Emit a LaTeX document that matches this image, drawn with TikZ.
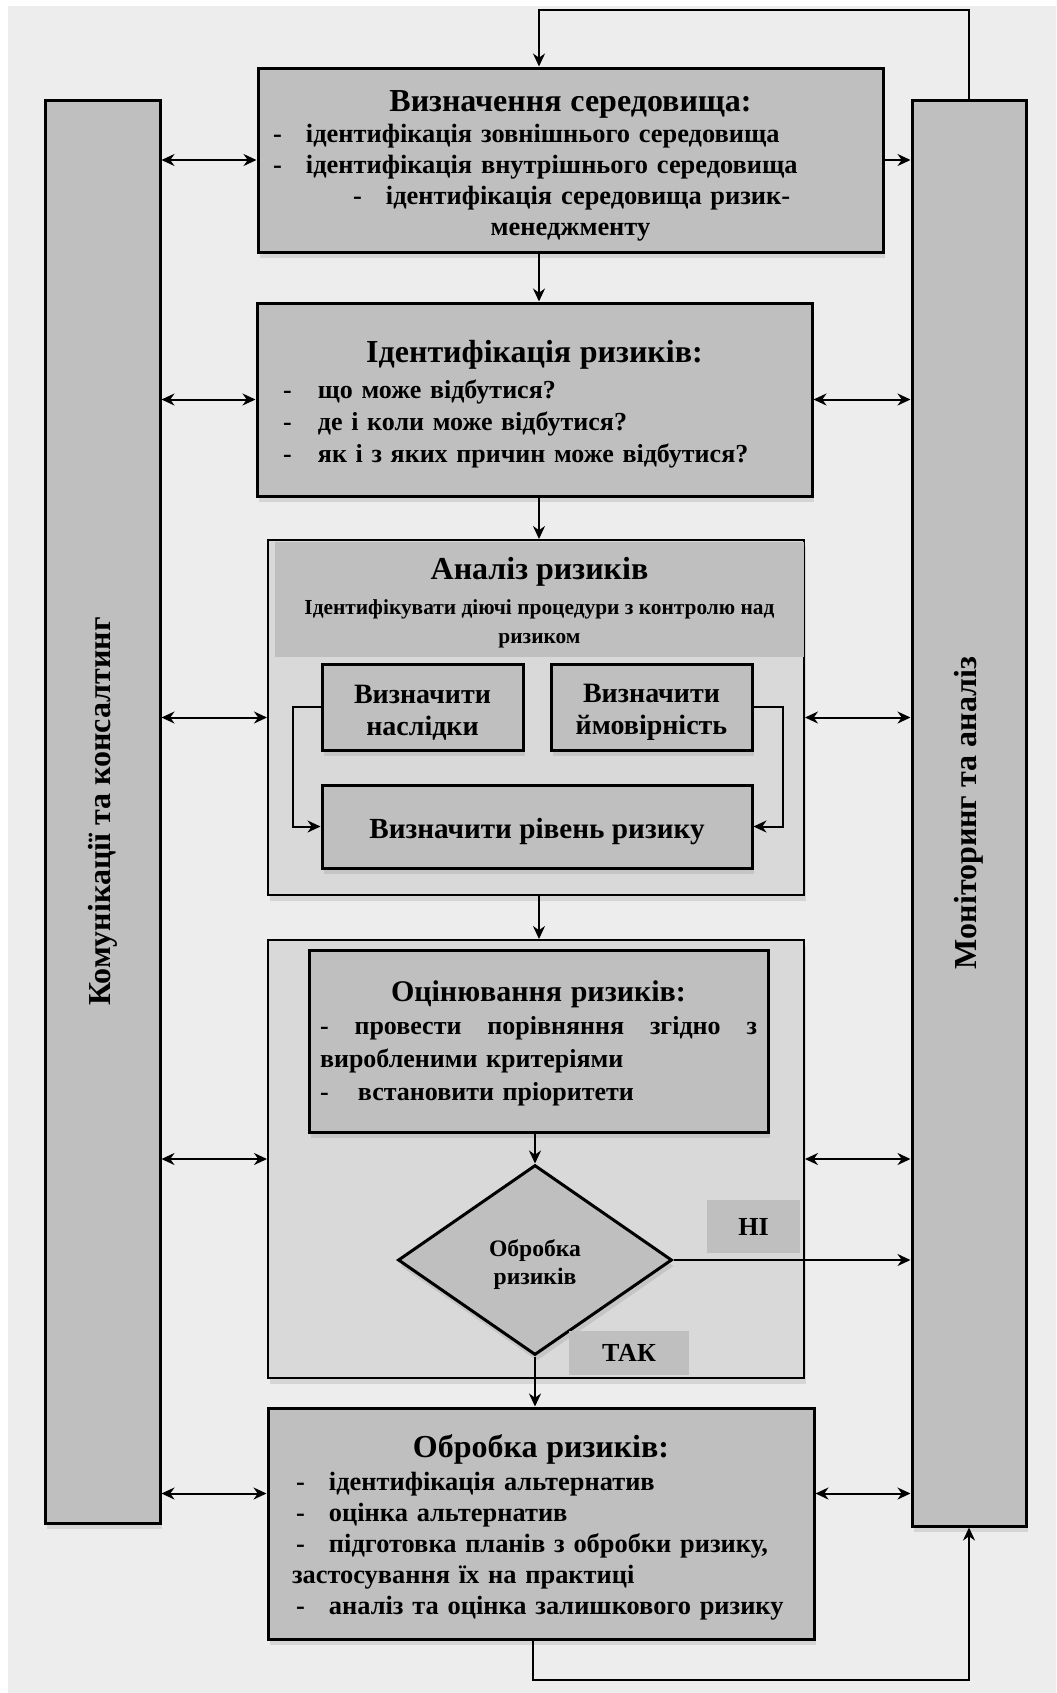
\documentclass[tikz,border=0pt]{standalone}
\usepackage{fontspec}
\setmainfont{Liberation Serif}
\usetikzlibrary{arrows.meta,positioning,shapes.geometric,shadows}
\definecolor{bgcol}{HTML}{EDEDED}
\definecolor{boxcol}{HTML}{BFBFBF}
\definecolor{panelcol}{HTML}{D9D9D9}
\tikzset{
    softshadow/.style={drop shadow={shadow xshift=1pt,shadow yshift=-3pt,opacity=0.22}},
    bigbox/.style={rectangle,draw,line width=1.5pt,fill=boxcol,softshadow,align=left,font=\bfseries\fontsize{13.2}{15.5}\selectfont},
    panel/.style={rectangle,draw,line width=1pt,fill=panelcol,softshadow},
    header/.style={rectangle,fill=boxcol,align=center,font=\bfseries\fontsize{10.7}{14.5}\selectfont},
    smallbox/.style={rectangle,draw,line width=1.5pt,fill=boxcol,softshadow,align=center,font=\bfseries\fontsize{14}{16}\selectfont},
    sidebar/.style={rectangle,draw,line width=1.5pt,fill=boxcol,softshadow},
    sidetext/.style={rotate=90,font=\bfseries\fontsize{16}{18}\selectfont},
    decide/.style={diamond,draw,line width=1.5pt,fill=boxcol,softshadow,align=center,inner sep=0pt,font=\bfseries\fontsize{11.8}{14}\selectfont},
    tag/.style={rectangle,fill=boxcol,font=\bfseries\fontsize{13}{15}\selectfont},
    flow/.style={->,line width=1pt,>={Stealth[length=6.5pt,width=6pt]}},
    bi/.style={<->,line width=1pt,>={Stealth[length=6.5pt,width=6pt]}}
}
\newcommand{\boxtitle}{\fontsize{16}{16}\selectfont}
\newcommand{\rdash}[1][16.5pt]{\makebox[#1][l]{-}}

\begin{document}
\begin{tikzpicture}[x=0.5pt,y=-0.5pt]

    \useasboundingbox (0,0) rectangle (1056,1693);
    \fill[bgcol] (8,6) rectangle (1056,1693);

    % side columns
    \node[sidebar,minimum width=57.5pt,minimum height=711.5pt] (comm) at (102.5,811.5) {};
    \node[sidetext] (commtext) at (comm) {Комунікації та консалтинг};
    \node[sidebar,minimum width=57pt,minimum height=713pt] (mon) at (969,813) {};
    \node[sidetext] (montext) at (mon) {Моніторинг та аналіз};

    % context
    \node[bigbox,minimum width=312.5pt,minimum height=92pt,text width=297.5pt] (ctx) at (570.5,160)
        {\noindent\makebox[\hsize]{\rule{0pt}{16pt}\boxtitle Визначення середовища:}\\
         \rdash ідентифікація зовнішнього середовища\\
         \rdash ідентифікація внутрішнього середовища\\
         \hspace*{40pt}\rdash ідентифікація середовища ризик-\\
         \makebox[\hsize]{менеджменту}};

    % identification
    \node[bigbox,minimum width=277.5pt,minimum height=96.5pt,text width=251.5pt,font=\bfseries\fontsize{13}{16}\selectfont] (ident) at (534.5,399.5)
        {\noindent\makebox[\hsize]{\rule{0pt}{16pt}\boxtitle Ідентифікація ризиків:}\\[2pt]
         \rdash[17.5pt]що може відбутися?\\
         \rdash[17.5pt]де і коли може відбутися?\\
         \rdash[17.5pt]як і з яких причин може відбутися?};

    % analysis
    \node[panel,minimum width=268pt,minimum height=177.5pt] (anal) at (536,717.5) {};
    \node[header,minimum width=264.5pt,minimum height=57.5pt] (analhead) at (539.5,599.5)
        {\rule{0pt}{14pt}{\boxtitle Аналіз ризиків}\\[3pt]
         Ідентифікувати діючі процедури з контролю над\\
         ризиком};
    \node[smallbox,minimum width=100.5pt,minimum height=43pt] (cons) at (422.5,707) {\rule{0pt}{14.5pt}Визначити\\наслідки};
    \node[smallbox,minimum width=100.5pt,minimum height=43pt] (prob) at (651.5,707) {\rule{0pt}{14.5pt}Визначити\\ймовірність};
    \node[smallbox,minimum width=215pt,minimum height=41.5pt,font=\bfseries\fontsize{14.6}{16}\selectfont] (level) at (537,826.5) {\rule{0pt}{15pt}Визначити рівень ризику};

    % evaluation
    \node[panel,minimum width=268pt,minimum height=219pt] (eval) at (536,1159) {};
    \node[bigbox,minimum width=229.5pt,minimum height=91pt,text width=218.5pt,font=\bfseries\fontsize{13}{16.5}\selectfont] (evalbox) at (538.5,1041)
        {\noindent\makebox[\hsize]{\rule{0pt}{13pt}\fontsize{15}{15}\selectfont Оцінювання ризиків:}\\
         \makebox[\hsize][s]{-\hfill провести\hfill порівняння\hfill згідно\hfill з}\\
         виробленими критеріями\\
         \rdash[19pt]встановити пріоритети};
    \node[decide,minimum width=137pt,minimum height=95pt] (decision) at (535,1260) {\rule{0pt}{13pt}Обробка\\ризиків};
    \node[tag,minimum width=46.5pt,minimum height=26.5pt] (no) at (753.5,1226.5) {НІ};
    \node[tag,minimum width=60pt,minimum height=22pt] (yes) at (629,1353) {ТАК};

    % treatment
    \node[bigbox,minimum width=273pt,minimum height=115.5pt,text width=245pt] (treat) at (541,1523.5)
        {\noindent\makebox[\hsize]{\rule{0pt}{15.5pt}\boxtitle Обробка ризиків:}\\[1pt]
         \rdash ідентифікація альтернатив\\
         \rdash оцінка альтернатив\\
         \rdash підготовка планів з обробки ризику,\\
         \hspace*{-2pt}застосування їх на практиці\\
         \rdash аналіз та оцінка залишкового ризику};

    \coordinate (spine) at (539,0);
    \coordinate (loopTop) at (539,10);
    \coordinate (loopBot) at (533,1680);
    \coordinate (treatL) at ([yshift=15pt]treat.west);
    \coordinate (treatR) at ([yshift=15pt]treat.east);

    % main flow
    \draw[flow] (mon.north) |- (loopTop) -- (loopTop |- ctx.north);
    \draw[flow] (ctx.south -| spine) -- (ident.north -| spine);
    \draw[flow] (ident.south -| spine) -- (anal.north -| spine);
    \draw[flow] (anal.south -| spine) -- (eval.north -| spine);
    \draw[flow] (evalbox.south -| decision) -- (decision.north);
    \draw[flow] (decision.south) -- (treat.north -| decision);
    \draw[flow] (decision.east) -- (decision.east -| mon.west);
    \draw[flow] (treat.south -| loopBot) -- (loopBot) -| (mon.south);

    % inside analysis
    \draw[flow] (cons.west) -- ++(-28,0) |- (level.west);
    \draw[flow] (prob.east) -- ++(29,0) |- (level.east);

    % links to side columns
    \draw[bi] (ctx.west) -- (ctx.west -| comm.east);
    \draw[flow] (ctx.east) -- (ctx.east -| mon.west);
    \draw[bi] (ident.west) -- (ident.west -| comm.east);
    \draw[bi] (ident.east) -- (ident.east -| mon.west);
    \draw[bi] (anal.west) -- (anal.west -| comm.east);
    \draw[bi] (anal.east) -- (anal.east -| mon.west);
    \draw[bi] (eval.west) -- (eval.west -| comm.east);
    \draw[bi] (eval.east) -- (eval.east -| mon.west);
    \draw[bi] (treatL) -- (treatL -| comm.east);
    \draw[bi] (treatR) -- (treatR -| mon.west);

\end{tikzpicture}
\end{document}
